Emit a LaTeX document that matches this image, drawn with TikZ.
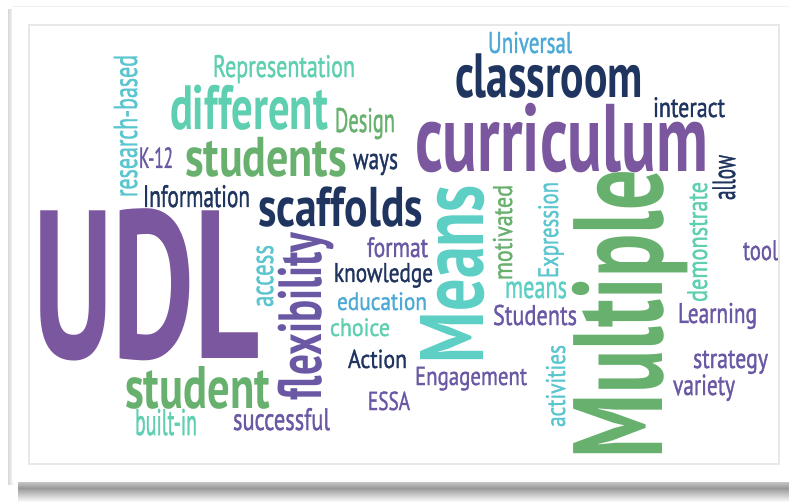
\documentclass[tikz,border=0pt]{standalone}
\usepackage{fontspec}
\setmainfont{PT Sans}
\newfontfamily\wfont{PT Sans}[FakeBold=1.5]
\usepackage{graphicx}
\definecolor{udlpurple}{RGB}{123,87,160}
\definecolor{purp}{RGB}{106,88,164}
\definecolor{navy}{RGB}{31,52,94}
\definecolor{grn}{RGB}{104,176,110}
\definecolor{mint}{RGB}{94,207,176}
\definecolor{teal}{RGB}{94,207,196}
\definecolor{cyn}{RGB}{92,198,208}
\definecolor{blu}{RGB}{77,170,214}
\newcommand\cw[2]{\resizebox{#1pt}{\height}{\wfont #2}}
\newcommand\cwb[2]{\resizebox{#1pt}{\height}{\bfseries #2}}
\tikzset{
  wrd/.style={inner sep=0pt, outer sep=0pt, anchor=base west},
  fs/.style={font=\fontsize{#1}{#1}\selectfont},
  vert/.style={rotate=90}
}
\begin{document}
\begin{tikzpicture}[x=1pt,y=-1pt]
\useasboundingbox (0,0) rectangle (789,502);
% shadow and card
\shade[top color=white, bottom color=white, middle color=gray!80] (18,474) rectangle (789,502);
\shade[left color=gray!30, right color=white] (8,10) rectangle (14,484);
\fill[white] (12,7) rectangle (789,482);
\draw[gray!12, line width=1pt] (12,7) -- (789,7);
\draw[gray!18, line width=1.2pt] (29,25) rectangle (779,464);
% words
\node[wrd, udlpurple, fs=211] (udl) at (33,358) {\cwb{227}{UDL}};
\node[wrd, mint, fs=31] (representation) at (213,77) {\cw{142}{Representation}};
\node[wrd, mint, fs=62.5] (different) at (170,130) {\cwb{158}{different}};
\node[wrd, grn, fs=34] (design) at (335,132) {\cw{60}{Design}};
\node[wrd, cyn, fs=33, vert] (research) at (137,197) {\cw{142}{research-based}};
\node[wrd, purp, fs=29] (k12) at (139,168) {\cw{34}{K-12}};
\node[wrd, grn, fs=56] (students) at (185,177) {\cwb{162}{students}};
\node[wrd, navy, fs=30] (ways) at (353,169) {\cw{45}{ways}};
\node[wrd, navy, fs=31] (information) at (143,207) {\cw{107}{Information}};
\node[wrd, navy, fs=56] (scaffolds) at (258,227) {\cwb{165}{scaffolds}};
\node[wrd, blu, fs=30] (universal) at (488,53) {\cw{84}{Universal}};
\node[wrd, navy, fs=62.5] (classroom) at (455,98) {\cwb{188}{classroom}};
\node[wrd, navy, fs=28] (interact) at (653,117) {\cw{72}{interact}};
\node[wrd, udlpurple, fs=96] (curriculum) at (415,172) {\cwb{293}{curriculum}};
\node[wrd, navy, fs=32, vert] (allow) at (735,200) {\cw{45}{allow}};
\node[wrd, teal, fs=90, vert] (Means) at (483,363) {\cwb{178}{Means}};
\node[wrd, grn, fs=27, vert] (motivated) at (512,280) {\cw{95}{motivated}};
\node[wrd, purp, fs=28] (format) at (367,257) {\cw{61}{format}};
\node[wrd, navy, fs=27] (knowledge) at (334,282) {\cw{99}{knowledge}};
\node[wrd, blu, fs=25] (education) at (337,310) {\cw{90}{education}};
\node[wrd, mint, fs=25] (choice) at (330,336) {\cw{60}{choice}};
\node[wrd, navy, fs=26] (action) at (348,368) {\cw{59}{Action}};
\node[wrd, purp, fs=26] (engagement) at (415,385) {\cw{112}{Engagement}};
\node[wrd, purp, fs=26] (essa) at (368,410) {\cw{42}{ESSA}};
\node[wrd, purp, fs=31] (successful) at (233,430) {\cw{97}{successful}};
\node[wrd, mint, fs=37] (builtin) at (135,435) {\cw{62}{built-in}};
\node[wrd, grn, fs=60] (student) at (125,408) {\cwb{145}{student}};
\node[wrd, purp, fs=61, vert] (flexibility) at (321,400) {\cwb{167}{flexibility}};
\node[wrd, cyn, fs=32, vert] (access) at (273,307) {\cw{62}{access}};
\node[wrd, cyn, fs=28, vert] (expression) at (558,278) {\cw{96}{Expression}};
\node[wrd, teal, fs=32] (means) at (505,298) {\cw{62}{means}};
\node[wrd, purp, fs=28.5] (Students) at (493,325) {\cw{84}{Students}};
\node[wrd, cyn, fs=27, vert] (activities) at (565,427) {\cw{82}{activities}};
\node[wrd, grn, fs=127, vert] (multiple) at (662,458) {\cwb{288}{Multiple}};
\node[wrd, mint, fs=28, vert] (demonstrate) at (707,302) {\cw{120}{demonstrate}};
\node[wrd, purp, fs=28] (tool) at (743,260) {\cw{35}{tool}};
\node[wrd, purp, fs=28.5] (learning) at (678,323) {\cw{79}{Learning}};
\node[wrd, purp, fs=28] (strategy) at (693,368) {\cw{75}{strategy}};
\node[wrd, purp, fs=29] (variety) at (673,395) {\cw{62}{variety}};
\end{tikzpicture}
\end{document}
